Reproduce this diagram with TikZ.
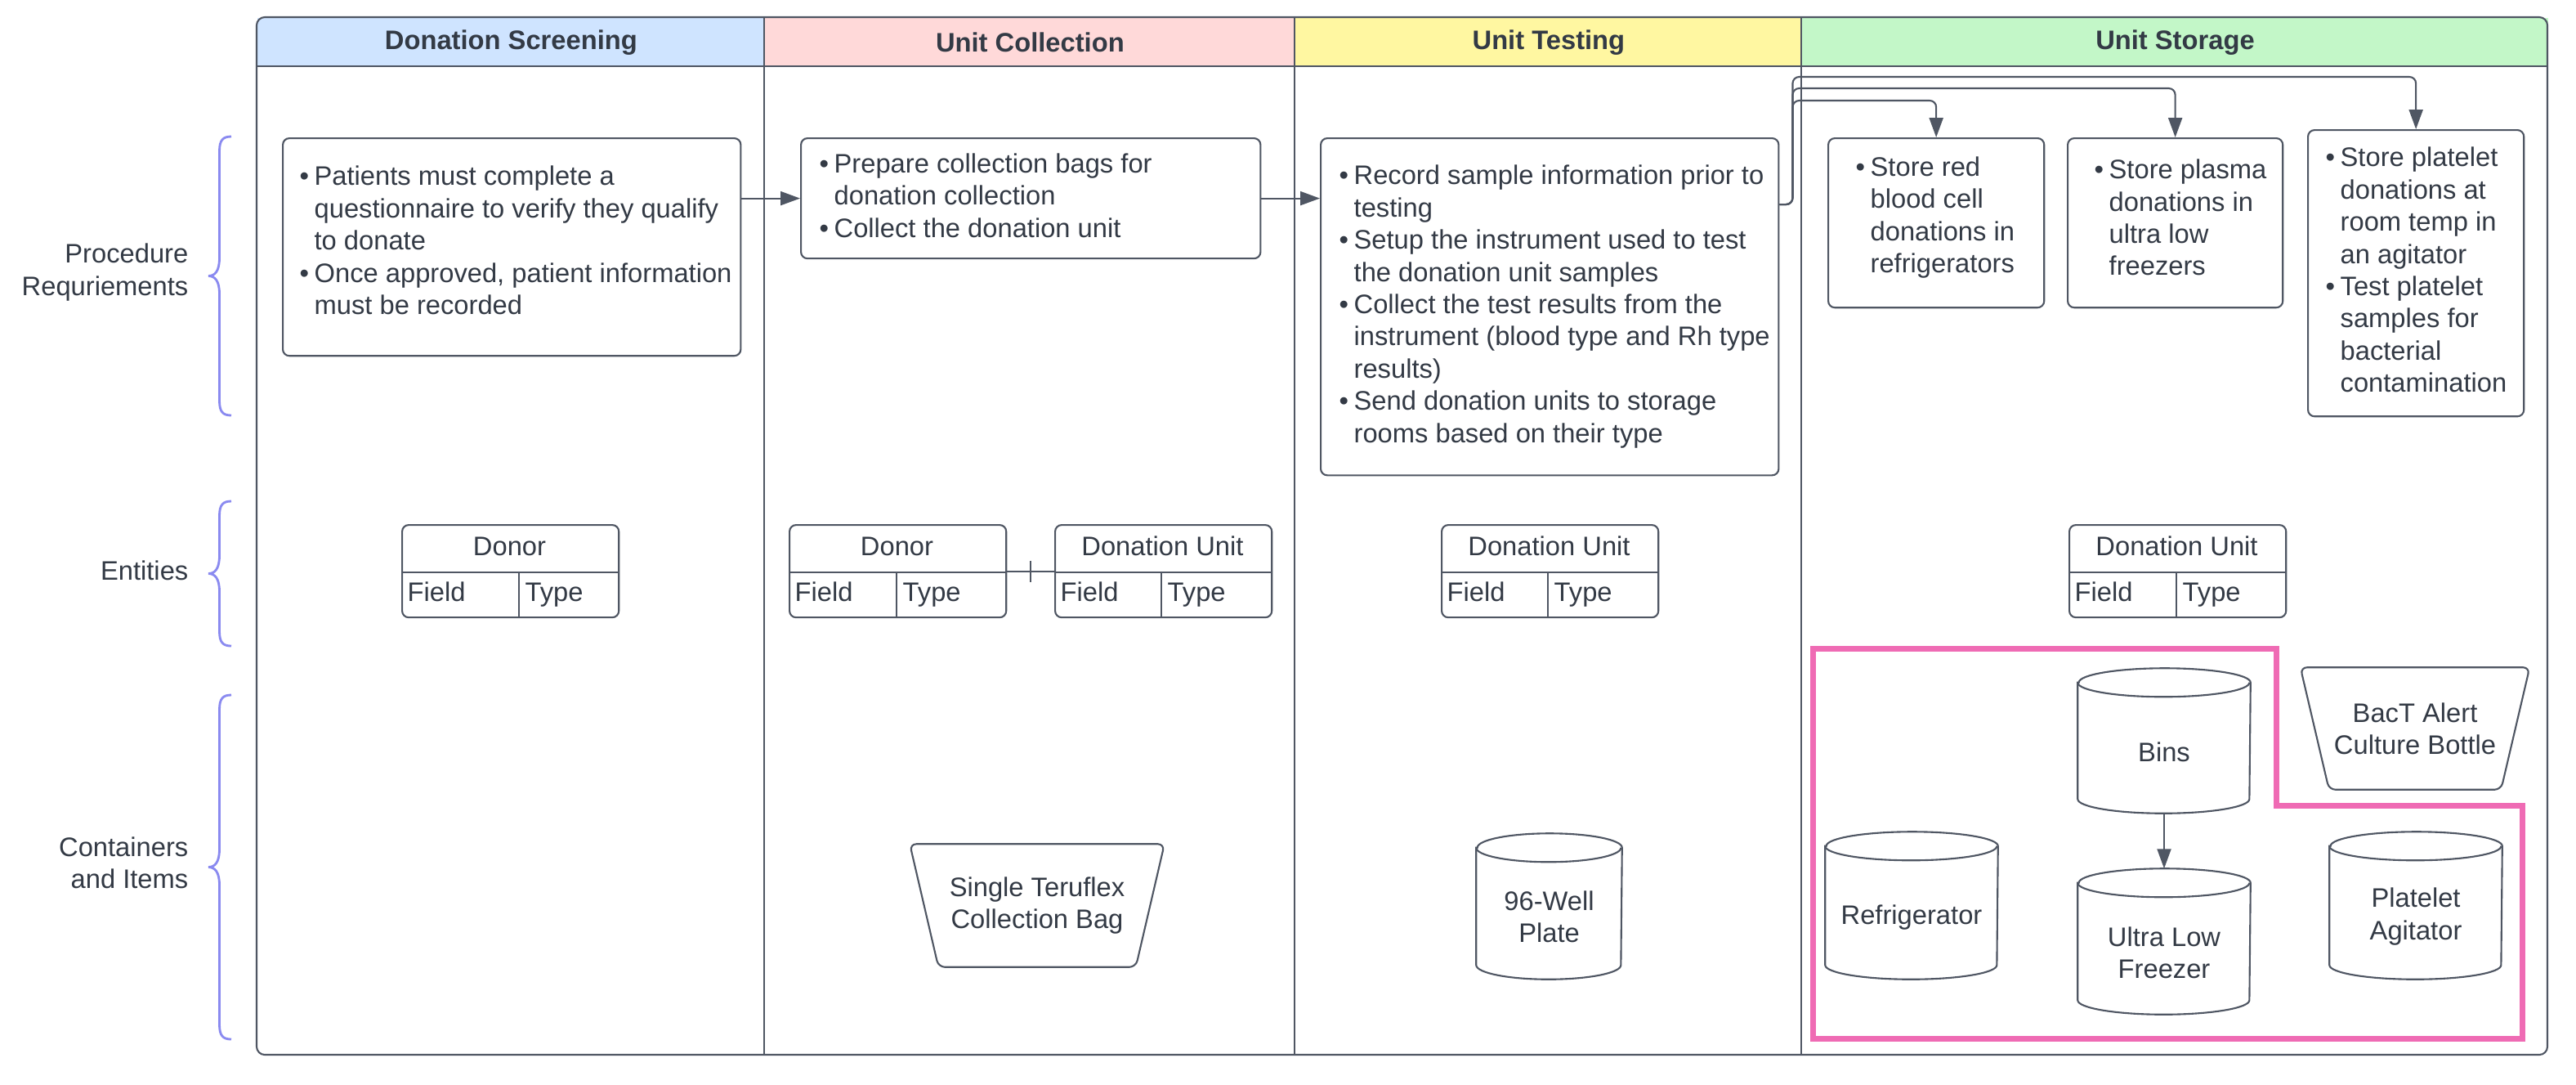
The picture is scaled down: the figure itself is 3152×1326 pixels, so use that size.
\documentclass[tikz,border=0pt]{standalone}
\usepackage{fontspec}
\setmainfont{Liberation Sans}
\usetikzlibrary{arrows.meta,calc}
\definecolor{txt}{HTML}{333A45}
\definecolor{ln}{HTML}{4F5663}
\definecolor{hblue}{HTML}{CFE4FF}
\definecolor{hred}{HTML}{FFD9D9}
\definecolor{hyel}{HTML}{FFF7A1}
\definecolor{hgreen}{HTML}{C3F7C8}
\definecolor{pinkc}{HTML}{EF6BB4}
\definecolor{brc}{HTML}{8A8AF0}
\newcommand\bul{\makebox[5.1pt][l]{\textbullet}}
\newcommand\bulsp{\hspace*{5.1pt}}
\newcommand\rowbrace[2]{%
  \draw[bracestyle] (283,#1) .. controls (273,#1) and (268.5,{#1+4}) .. (268.5,{#1+18})
    -- (268.5,{(#1+#2)/2-22}) .. controls (268.5,{(#1+#2)/2-6}) and (263,{(#1+#2)/2}) .. (255,{(#1+#2)/2})
    .. controls (263,{(#1+#2)/2}) and (268.5,{(#1+#2)/2+6}) .. (268.5,{(#1+#2)/2+22})
    -- (268.5,{#2-18}) .. controls (268.5,{#2-4}) and (273,#2) .. (283,#2);}
\newcommand\entity[5]{% name, left, top, column x, title
  \node[entbox] (#1) at (#2,#3) {};
  \draw[line] (#2,{#3+59}) -- ({#2+265},{#3+59});
  \draw[line] (#4,{#3+59}) -- (#4,{#3+113});
  \node[anchor=base] (#1h) at ({#2+132.5},{#3+38}) {#5};
  \node[anchor=base west] (#1f) at ({#2+7},{#3+94}) {Field};
  \node[anchor=base west] (#1t) at ({#4+7},{#3+94}) {Type};}
\newcommand\cyl[2]{% node, x radius
  \draw[line] ([yshift=-1.75mm]#1.north west) -- ([yshift=1.75mm]#1.south west)
    arc[start angle=180,end angle=360,x radius=#2,y radius=1.75mm]
    -- ([yshift=-1.75mm]#1.north east)
    arc[start angle=0,end angle=180,x radius=#2,y radius=1.75mm] -- cycle;
  \draw[line] ([yshift=-1.75mm]#1.north west) arc[start angle=180,end angle=360,x radius=#2,y radius=1.75mm];}
\newcommand\trap[1]{%
  \draw[line, rounded corners=0.08cm] (#1.north west) -- (#1.north east)
    -- ([xshift=-0.35cm]#1.south east) -- ([xshift=0.35cm]#1.south west) -- cycle;}

\begin{document}
\begin{tikzpicture}[x=0.01cm,y=-0.01cm,
  every node/.style={font=\fontsize{9.3}{11.2}\selectfont, text=txt, inner sep=0pt},
  line/.style={draw=ln, line width=0.6pt},
  procbox/.style={draw=ln, line width=0.6pt, rounded corners=0.08cm, anchor=north west},
  entbox/.style={draw=ln, line width=0.6pt, rounded corners=0.08cm, anchor=north west,
    minimum width=2.65cm, minimum height=1.13cm},
  hdr/.style={anchor=north west, minimum height=0.60cm, font=\fontsize{9.3}{11.2}\selectfont\bfseries},
  arr/.style={line, -{Triangle[length=2.4mm,width=1.7mm]}},
  bracestyle/.style={draw=brc, line width=0.8pt},
  shapebox/.style={minimum width=#1, align=center}
]
\useasboundingbox (0,0) rectangle (3152,1326);
\fill[white] (0,0) rectangle (3152,1326);

% lane headers
\node[hdr, fill=hblue, minimum width=6.21cm] (h1) at (314,21) {Donation Screening};
\node[hdr, fill=hred, minimum width=6.49cm] (h2) at (935,21) {Unit Collection};
\node[hdr, fill=hyel, minimum width=6.20cm] (h3) at (1584,21) {Unit Testing};
\node[hdr, fill=hgreen, minimum width=9.13cm] (h4) at (2204,21) {Unit Storage};

% pool frame
\draw[line, rounded corners=0.1cm] (314,21) rectangle (3117,1290);
\draw[line] (314,81) -- (3117,81);
\draw[line] (h2.north west) -- (935,1290);
\draw[line] (h3.north west) -- (1584,1290);
\draw[line] (h4.north west) -- (2204,1290);

% row labels and braces
\node[anchor=east, align=right] (rl1) at (231,333) {Procedure\\Requriements};
\node[anchor=east, align=right] (rl2) at (231,698) {Entities};
\node[anchor=east, align=right] (rl3) at (231,1055) {Containers\\and Items};
\rowbrace{167}{508}
\rowbrace{613}{790}
\rowbrace{850}{1271}

% procedure boxes
\node[procbox, minimum width=5.60cm, minimum height=2.66cm] (b1) at (345,168) {};
\node[anchor=west, align=left] (b1t) at (366,294) {\bul Patients must complete a\\\bulsp questionnaire to verify they qualify\\\bulsp to donate\\\bul Once approved, patient information\\\bulsp must be recorded};

\node[procbox, minimum width=5.62cm, minimum height=1.47cm] (b2) at (979,168) {};
\node[anchor=west, align=left] (b2t) at (1002,239) {\bul Prepare collection bags for\\\bulsp donation collection\\\bul Collect the donation unit};

\node[procbox, minimum width=5.60cm, minimum height=4.12cm] (b3) at (1615,168) {};
\node[anchor=west, align=left] (b3t) at (1638,375) {\bul Record sample information prior to\\\bulsp testing\\\bul Setup the instrument used to test\\\bulsp the donation unit samples\\\bul Collect the test results from the\\\bulsp instrument (blood type and Rh type\\\bulsp results)\\\bul Send donation units to storage\\\bulsp rooms based on their type};

\node[procbox, minimum width=2.64cm, minimum height=2.07cm] (s1) at (2236,168) {};
\node[anchor=west, align=left] (s1t) at (2270,266) {\bul Store red\\\bulsp blood cell\\\bulsp donations in\\\bulsp refrigerators};

\node[procbox, minimum width=2.63cm, minimum height=2.07cm] (s2) at (2529,168) {};
\node[anchor=west, align=left] (s2t) at (2562,266) {\bul Store plasma\\\bulsp donations in\\\bulsp ultra low\\\bulsp freezers};

\node[procbox, minimum width=2.64cm, minimum height=3.50cm] (s3) at (2823,158) {};
\node[anchor=west, align=left] (s3t) at (2845,330) {\bul Store platelet\\\bulsp donations at\\\bulsp room temp in\\\bulsp an agitator\\\bul Test platelet\\\bulsp samples for\\\bulsp bacterial\\\bulsp contamination};

% process connectors
\draw[arr] (b1.east |- b2.west) -- (b2.west);
\draw[arr] (b2.east) -- (b2.east -| b3.west);
\draw[arr, rounded corners=0.08cm] ([yshift=-0.82cm]b3.north east) -- ++(16,0) |- ($(s3.north)+(0,-64)$) -- (s3.north);
\draw[arr, rounded corners=0.08cm] ([yshift=-0.82cm]b3.north east) -- ++(16,0) |- ($(s2.north)+(0,-60)$) -- (s2.north);
\draw[arr, rounded corners=0.08cm] ([yshift=-0.82cm]b3.north east) -- ++(16,0) |- ($(s1.north)+(0,-45)$) -- (s1.north);

% entities
\entity{e1}{491}{641}{635}{Donor}
\entity{e2}{965}{641}{1097}{Donor}
\entity{e3}{1290}{641}{1421}{Donation Unit}
\entity{e4}{1763}{641}{1894}{Donation Unit}
\entity{e5}{2531}{641}{2663}{Donation Unit}
\draw[line] (e2.east) -- coordinate[midway] (e23m) (e3.west);
\draw[line] ($(e23m)+(0,-13)$) -- ($(e23m)+(0,13)$);

% containers
\node[shapebox=3.10cm, minimum height=1.49cm] (bag) at (1269,1107.5) {Single Teruflex\\Collection Bag};
\trap{bag}
\node[shapebox=2.79cm, minimum height=1.48cm] (bact) at (2955,891) {BacT Alert\\Culture Bottle};
\trap{bact}

\node[shapebox=1.77cm, minimum height=1.77cm] (plate) at (1895.5,1108.5) {};
\cyl{plate}{0.885cm}
\node[align=center] (platet) at (1895.5,1121) {96-Well\\Plate};

\node[shapebox=2.10cm, minimum height=1.76cm] (bins) at (2648,906) {};
\cyl{bins}{1.05cm}
\node (binst) at (2648,920) {Bins};

\node[shapebox=2.10cm, minimum height=1.77cm] (ulf) at (2648,1151.5) {};
\cyl{ulf}{1.05cm}
\node[align=center] (ulft) at (2648,1165) {Ultra Low\\Freezer};

\node[shapebox=2.10cm, minimum height=1.79cm] (fridge) at (2339,1107.5) {};
\cyl{fridge}{1.05cm}
\node (fridget) at (2339,1122) {Refrigerator};

\node[shapebox=2.10cm, minimum height=1.79cm] (agit) at (2956,1107.5) {};
\cyl{agit}{1.05cm}
\node[align=center] (agitt) at (2956,1121) {Platelet\\Agitator};

\draw[arr] (bins.south) -- (ulf.north);

% storage highlight
\draw[draw=pinkc, line width=2pt] (2218,793) -- (2785,793) -- (2785,985) -- (3086,985) -- (3086,1270) -- (2218,1270) -- cycle;
\end{tikzpicture}
\end{document}
